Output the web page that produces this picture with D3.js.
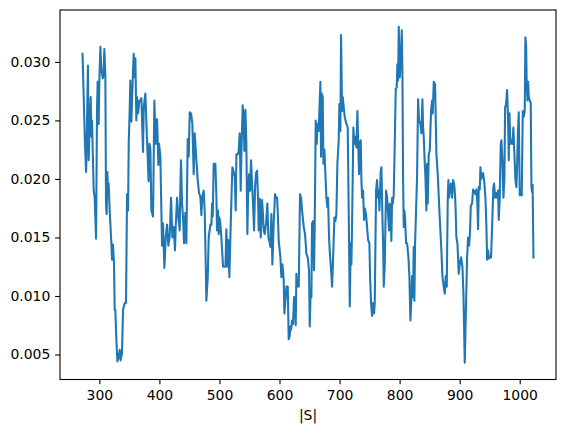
<!DOCTYPE html>
<html>
<head>
<meta charset="utf-8">
<script src="https://cdn.jsdelivr.net/npm/d3@7"></script>
<style>
  html, body { margin: 0; padding: 0; background: #fff; }
  svg { display: block; }
  .tick text { font-family: "DejaVu Sans", sans-serif; font-size: 13.9px; fill: #000; }
</style>
</head>
<body>
<svg id="chart" width="565" height="433"></svg>
<script>
const sizes = [
272,276,278,279.5,281,282.2,284,285.6,286.8,287.8,288.9,290.6,292.2,294.5,296.1,297.2,298.9,300,301.7,303.3,
305.6,306.7,308.3,310,311.1,312.2,313.3,314.4,315.5,317.2,320,321.1,322.7,324.4,325.5,326.6,328.3,330,332.2,333.9,
335.5,337.7,339.4,342.2,344.4,346.1,347.8,348.9,350.5,351.6,353.3,355.5,357.2,358.8,360,361.6,362.7,364.4,366.6,368.3,
370,372.7,374,376.6,379.4,382,383.5,385,386.6,389.4,391.6,393.8,396.1,398.3,399.4,401.6,404.4,406,408.3,410.5,
412.7,414.9,417.1,419.4,421.6,423.8,426,427.1,429.4,431.6,433.8,434.9,436,437.7,439.4,441,443.2,444.9,447.1,448.8,
450.5,452.7,454.9,457.1,458.8,461.6,463.8,466,468.2,469.9,471.5,473.8,475.4,477.1,478.2,480.5,482.1,484.9,486.6,487.7,
488.8,490.4,493.2,494.9,496,497.7,498.8,499.9,501.5,503.2,506,508.2,509.9,511.5,513.2,514.3,515.4,516.5,518.2,519.5,
521.5,523.2,525.4,527.1,528.2,530.4,532.1,533.7,535.4,536.5,538.7,540.4,541.5,543.2,544.8,546.5,547.6,549.3,551,552.6,
554.3,555.9,557.6,559.3,560.9,562.6,564.3,565.4,567.1,568.7,570.9,572.1,573.7,575.4,577.6,579.8,581.5,583.2,584.8,586.5,
588.1,590.3,592.6,594.3,596,597,598.7,601.5,603.1,604.8,607,608.1,609.8,611.5,613.7,615.3,617,618.1,619.2,620.9,
622.6,624.2,625.9,627,628.1,629.2,630.3,632,634.2,635.9,637.6,640.3,642.5,644.8,647,649.2,650.3,651.9,653.1,654.2,
655.9,657.5,658.6,660.3,661.9,663.6,665.3,667,668.1,669.2,670.3,672,673.1,674.8,676.4,678.1,679.7,680.8,682.5,683.6,
685.9,687.5,689.2,691.4,693.1,694.7,696.4,698.6,699.7,701.4,702.5,704.2,705.3,707,708.6,711.4,713.6,715.3,717,718.6,
719.7,720.8,723,724.7,726.4,728.1,729.7,731.4,732.5,733.6,735.3,736.4,737.5,739.2,740.8,741.9,744.1,745.8,747.5,749.7,
750.8,752.5,754.1,755.8,757.5,758.6,760.8,762.5,764.1,765.2,766.4,768.6,769.7,771.4,772.5,773.6,775.3,776.4,777.5,779.2,
780.8,782.5,783.6,785.2,786.3,787.5,788.6,790.2,791.9,793.6,795.2,796.3,797.5,798.6,800.3,801.9,803.6,804.7,805.8,806.9,
808,809.1,810.8,812.5,814.7,816.3,818,819.7,820.8,822.4,823.5,824.6,825.8,827.4,829.1,830.8,832.4,834.6,836.3,838,
839.1,840.2,841.9,843,844.6,845.7,846.9,848.5,850.2,852.4,854.1,855.2,856.9,859.1,861.3,863.5,866.8,869.6,871.3,873.5,
875.2,876.9,878.5,880.2,881.3,882.4,884.1,885.7,887.4,889,890.7,891.8,893,894.6,896.3,898.5,900.2,902.4,904.6,906.3,
908.5,910.5,912.4,914,915.7,917.3,918.5,920.7,922.4,924.6,926.2,927.9,929.5,930.7,931.8,933.5,934.6,936.2,937.4,939,
940.7,942.9,944.6,945.7,947.3,949,950.6,952.3,954,956.2,957.3,959,960.7,962.3,963.9,965.1,966.8,968.4,969.5,971.2,
972.9,974.5,975.7,977.3,979,980.7,981.8,982.9,984.5,986.2,987.9,989.5,991.2,992.9,994.5,995.6,997,998.4,1000.1,1001.8,
1003.4,1005.1,1006.7,1008.4,1009.5,1010.6,1011.7,1012.9,1014,1015.1,1016.7,1018.4,1019.5,1020.6,1021.5,1022.9
];
const values = [
0.0307,0.0230,0.0206,0.0250,0.0297,0.0216,0.0250,0.0270,0.0236,0.0250,0.0225,0.0190,0.0184,0.0149,0.0260,0.0283,0.0247,0.0284,0.0313,0.0293,
0.0286,0.0288,0.0311,0.0288,0.0178,0.0170,0.0206,0.0190,0.0196,0.0173,0.0145,0.0131,0.0144,0.0128,0.0088,0.0088,0.0063,0.0044,0.0048,0.0054,
0.0045,0.0051,0.0088,0.0094,0.0094,0.0187,0.0173,0.0230,0.0259,0.0284,0.0249,0.0284,0.0307,0.0287,0.0303,0.0250,0.0270,0.0256,0.0267,0.0267,
0.0269,0.0223,0.0262,0.0273,0.0233,0.0198,0.0230,0.0225,0.0173,0.0168,0.0267,0.0230,0.0251,0.0212,0.0230,0.0219,0.0143,0.0162,0.0124,0.0150,
0.0161,0.0143,0.0151,0.0184,0.0150,0.0159,0.0139,0.0159,0.0184,0.0167,0.0156,0.0193,0.0216,0.0179,0.0167,0.0145,0.0171,0.0145,0.0234,0.0219,
0.0257,0.0256,0.0247,0.0204,0.0239,0.0216,0.0199,0.0188,0.0185,0.0169,0.0185,0.0190,0.0173,0.0128,0.0096,0.0116,0.0150,0.0161,0.0161,0.0179,
0.0168,0.0213,0.0213,0.0185,0.0156,0.0173,0.0153,0.0167,0.0162,0.0150,0.0125,0.0125,0.0125,0.0157,0.0125,0.0148,0.0137,0.0116,0.0150,0.0175,
0.0210,0.0207,0.0202,0.0173,0.0221,0.0221,0.0224,0.0239,0.0190,0.0221,0.0263,0.0250,0.0224,0.0259,0.0230,0.0153,0.0184,0.0204,0.0190,0.0216,
0.0196,0.0179,0.0156,0.0193,0.0205,0.0207,0.0182,0.0156,0.0183,0.0150,0.0182,0.0173,0.0156,0.0153,0.0162,0.0179,0.0150,0.0147,0.0142,0.0170,
0.0127,0.0162,0.0187,0.0184,0.0184,0.0173,0.0147,0.0133,0.0116,0.0127,0.0114,0.0085,0.0096,0.0108,0.0108,0.0063,0.0066,0.0074,0.0071,0.0079,
0.0076,0.0099,0.0088,0.0075,0.0119,0.0108,0.0110,0.0108,0.0187,0.0184,0.0173,0.0159,0.0153,0.0136,0.0133,0.0122,0.0074,0.0105,0.0099,0.0162,
0.0164,0.0122,0.0159,0.0250,0.0230,0.0247,0.0241,0.0267,0.0283,0.0219,0.0273,0.0270,0.0213,0.0225,0.0204,0.0184,0.0176,0.0184,0.0150,0.0139,
0.0122,0.0108,0.0131,0.0167,0.0164,0.0170,0.0213,0.0233,0.0264,0.0241,0.0323,0.0258,0.0270,0.0261,0.0253,0.0247,0.0244,0.0170,0.0091,0.0145,
0.0127,0.0159,0.0244,0.0230,0.0236,0.0227,0.0258,0.0224,0.0204,0.0230,0.0233,0.0199,0.0184,0.0190,0.0165,0.0175,0.0170,0.0159,0.0148,0.0145,
0.0117,0.0094,0.0083,0.0094,0.0085,0.0094,0.0190,0.0199,0.0184,0.0190,0.0173,0.0207,0.0210,0.0167,0.0145,0.0108,0.0127,0.0162,0.0190,0.0184,
0.0170,0.0156,0.0179,0.0173,0.0147,0.0184,0.0179,0.0186,0.0230,0.0277,0.0278,0.0298,0.0284,0.0330,0.0287,0.0300,0.0327,0.0290,0.0200,0.0159,
0.0173,0.0166,0.0145,0.0145,0.0133,0.0117,0.0079,0.0099,0.0117,0.0099,0.0142,0.0096,0.0145,0.0173,0.0202,0.0268,0.0250,0.0247,0.0239,0.0268,
0.0244,0.0236,0.0213,0.0202,0.0173,0.0213,0.0179,0.0221,0.0224,0.0258,0.0267,0.0256,0.0283,0.0281,0.0221,0.0204,0.0167,0.0139,0.0117,0.0108,
0.0102,0.0117,0.0108,0.0184,0.0199,0.0184,0.0193,0.0196,0.0184,0.0199,0.0196,0.0190,0.0179,0.0150,0.0145,0.0119,0.0127,0.0133,0.0125,0.0102,
0.0043,0.0090,0.0133,0.0150,0.0143,0.0155,0.0177,0.0179,0.0191,0.0189,0.0187,0.0191,0.0179,0.0157,0.0193,0.0191,0.0210,0.0200,0.0204,0.0205,
0.0199,0.0184,0.0159,0.0131,0.0139,0.0132,0.0133,0.0133,0.0159,0.0193,0.0196,0.0184,0.0188,0.0184,0.0190,0.0165,0.0184,0.0230,0.0233,0.0216,
0.0184,0.0201,0.0261,0.0264,0.0276,0.0250,0.0216,0.0256,0.0230,0.0233,0.0230,0.0244,0.0221,0.0199,0.0193,0.0210,0.0239,0.0257,0.0186,0.0187,
0.0186,0.0258,0.0253,0.0258,0.0321,0.0315,0.0281,0.0267,0.0283,0.0270,0.0267,0.0265,0.0193,0.0189,0.0195,0.0133
];
const xTicks = [300, 400, 500, 600, 700, 800, 900, 1000];
const yTicks = [0.005, 0.010, 0.015, 0.020, 0.025, 0.030];
const xLabel = "|S|";

const mLeft = 60, mRight = 556, mTop = 10, mBottom = 379.5;
const svg = d3.select("#chart");

function padded(ext) {
  const r = ext[1] - ext[0];
  return [ext[0] - 0.05 * r, ext[1] + 0.05 * r];
}
const n = Math.min(sizes.length, values.length);
const pts = d3.range(n).map(i => [sizes[i], values[i]]);

const x = d3.scaleLinear().domain(padded(d3.extent(pts, d => d[0]))).range([mLeft, mRight]);
const y = d3.scaleLinear().domain(padded(d3.extent(pts, d => d[1]))).range([mBottom, mTop]);

svg.append("path")
  .datum(pts)
  .attr("fill", "none")
  .attr("stroke", "#1f77b4")
  .attr("stroke-width", 2.08)
  .attr("stroke-linejoin", "round")
  .attr("stroke-linecap", "square")
  .attr("d", d3.line().x(d => x(d[0])).y(d => y(d[1])));

const xAxis = svg.append("g")
  .attr("transform", `translate(0,${mBottom})`)
  .call(d3.axisBottom(x).tickValues(xTicks).tickSize(4.86).tickPadding(4.86).tickFormat(d3.format("d")));
xAxis.select(".domain").remove();
xAxis.selectAll(".tick line").attr("stroke", "#000").attr("stroke-width", 1.1);
xAxis.selectAll(".tick text").attr("dy", "0.76em");

const yAxis = svg.append("g")
  .attr("transform", `translate(${mLeft},0)`)
  .call(d3.axisLeft(y).tickValues(yTicks).tickSize(4.86).tickPadding(4.86).tickFormat(d3.format(".3f")));
yAxis.select(".domain").remove();
yAxis.selectAll(".tick line").attr("stroke", "#000").attr("stroke-width", 1.1);

svg.append("rect")
  .attr("x", mLeft).attr("y", mTop)
  .attr("width", mRight - mLeft).attr("height", mBottom - mTop)
  .attr("fill", "none").attr("stroke", "#000").attr("stroke-width", 1.1);

svg.append("text")
  .attr("x", (mLeft + mRight) / 2)
  .attr("y", 420)
  .attr("text-anchor", "middle")
  .attr("font-family", "DejaVu Sans, sans-serif")
  .attr("font-size", "13.9px")
  .text(xLabel);
</script>
</body>
</html>
